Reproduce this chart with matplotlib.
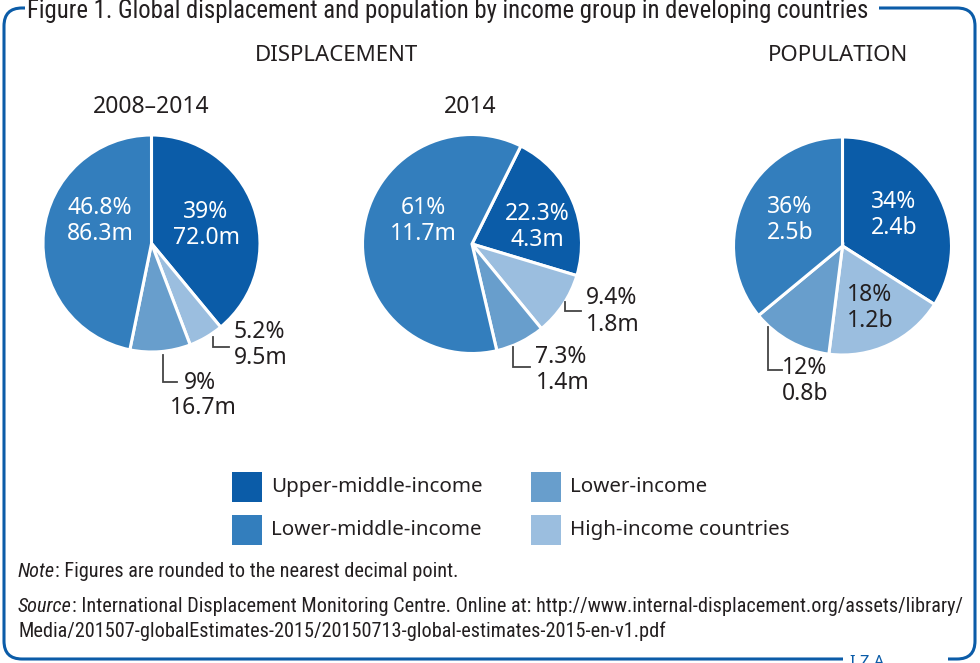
import numpy as np
import matplotlib
matplotlib.use("Agg")
import matplotlib.pyplot as plt
from matplotlib.patches import FancyBboxPatch, Rectangle

W, H = 980, 663

# data
categories = ['Upper-middle-income', 'Lower-middle-income', 'Lower-income', 'High-income countries']
cat_colors = ['#0b5ca8', '#337ebd', '#689ecc', '#9bbedf']
# wedges go clockwise in this order
order = ['Upper-middle-income', 'High-income countries', 'Lower-income', 'Lower-middle-income']

disp_0814_pct = [39, 5.2, 9, 46.8]
disp_0814_lbl = [('39%', '72.0m'), ('5.2%', '9.5m'), ('9%', '16.7m'), ('46.8%', '86.3m')]
disp_2014_pct = [22.3, 9.4, 7.3, 61]
disp_2014_lbl = [('22.3%', '4.3m'), ('9.4%', '1.8m'), ('7.3%', '1.4m'), ('61%', '11.7m')]
pop_pct = [34, 18, 12, 36]
pop_lbl = [('34%', '2.4b'), ('18%', '1.2b'), ('12%', '0.8b'), ('36%', '2.5b')]

BLUE = '#0b5ca8'
DARK = '#231f20'
LFONT = ['Noto Sans', 'DejaVu Sans']
NFONT = ['Roboto Condensed', 'DejaVu Sans']

fig = plt.figure(figsize=(9.8, 6.63), dpi=100)
ax = fig.add_axes([0, 0, 1, 1])


def Y(y):
    return H - y


col = dict(zip(categories, cat_colors))

# pies: center, radius, startangle, data, labels
pies = [
    ((151.5, 243.5), 108.5, 90, disp_0814_pct, disp_0814_lbl),
    ((472, 244), 109.5, 63.5, disp_2014_pct, disp_2014_lbl),
    ((842.5, 246), 109, 90, pop_pct, pop_lbl),
]
for (cx, cy), r, sa, vals, lbls in pies:
    ax.pie(vals, colors=[col[c] for c in order], center=(cx, Y(cy)), radius=r,
           startangle=sa, counterclock=False, frame=True,
           wedgeprops=dict(edgecolor='white', linewidth=2.2))
ax.set_xlim(0, W)
ax.set_ylim(0, H)
ax.set_axis_off()

# inside labels (white or dark), offsets from pie centres in px: (pie, idx, dx, dy, colour)
inside = [
    (0, 0, 54.5, -32, 'white'), (0, 3, -51.5, -36, 'white'),
    (1, 3, -48.5, -36, 'white'), (1, 0, 65, -30, 'white'),
    (2, 0, 51.5, -44, 'white'), (2, 3, -52.5, -39, 'white'),
    (2, 1, 27.5, 49, DARK),
]
for p, i, dx, dy, c in inside:
    (cx, cy), r, sa, vals, lbls = pies[p]
    ax.text(cx + dx, Y(cy + dy), lbls[i][0], ha='center', va='center', color=c,
            fontsize=16.5, family=LFONT)
    ax.text(cx + dx, Y(cy + dy + 26), lbls[i][1], ha='center', va='center', color=c,
            fontsize=16.5, family=LFONT)

# outside labels with elbow leader lines
# (pie, idx, line x, line y0, line y1, line x end, text1 x, text1 y, text2 x, text2 y)
outside = [
    (0, 1, 212.7, 336.7, 346.7, 229, 234, 332, 234, 358),
    (0, 2, 163.3, 355, 381.7, 177, 184, 383, 170, 408),
    (1, 1, 565, 301.7, 310.7, 581, 586, 298, 586, 325),
    (1, 2, 513.3, 346.7, 367.3, 530, 535, 357, 536, 383),
    (2, 2, 767.7, 326.7, 370, 781.7, 782, 368, 782, 394),
]
for p, i, lx, ly0, ly1, lx1, t1x, t1y, t2x, t2y in outside:
    lbls = pies[p][4]
    ax.plot([lx, lx, lx1], [Y(ly0), Y(ly1), Y(ly1)], color='#444444', lw=1.3,
            solid_joinstyle='miter')
    ax.text(t1x, Y(t1y), lbls[i][0], ha='left', va='center', color=DARK,
            fontsize=16.5, family=LFONT)
    ax.text(t2x, Y(t2y), lbls[i][1], ha='left', va='center', color=DARK,
            fontsize=16.5, family=LFONT)

# headings
ax.text(336.5, Y(55.5), 'DISPLACEMENT', ha='center', va='center', color=DARK,
        fontsize=16, family=LFONT)
ax.text(838, Y(55.5), 'POPULATION', ha='center', va='center', color=DARK,
        fontsize=16, family=LFONT)
ax.text(151, Y(107), '2008–2014', ha='center', va='center', color=DARK,
        fontsize=16.5, family=LFONT)
ax.text(470, Y(107), '2014', ha='center', va='center', color=DARK,
        fontsize=16.5, family=LFONT)

# legend
leg_pos = [(232, 472), (232, 515), (531, 472), (531, 515)]
for (lx, ly), c in zip(leg_pos, categories):
    ax.add_patch(Rectangle((lx, Y(ly + 30)), 30, 30, facecolor=col[c], edgecolor='none'))
    ax.text(lx + 39, Y(ly + 15), c, ha='left', va='center', color=DARK,
            fontsize=14.8, family=LFONT)

# frame
frame = FancyBboxPatch((4, Y(659)), 971, 651, boxstyle='round,pad=0,rounding_size=18',
                       facecolor='none', edgecolor=BLUE, lw=2.2, zorder=5)
ax.add_patch(frame)
ax.add_patch(Rectangle((25, Y(14)), 854, 12, facecolor='white', edgecolor='none', zorder=6))
ax.add_patch(Rectangle((843, Y(663)), 105, 10, facecolor='white', edgecolor='none', zorder=6))
ax.text(27, Y(18), 'Figure 1. Global displacement and population by income group in developing countries',
        ha='left', va='baseline', color=DARK, fontsize=17.8, family=NFONT, zorder=7)
ax.text(867, Y(667), 'I Z A', ha='center', va='baseline', color=BLUE, fontsize=12,
        fontweight='bold', family=LFONT, zorder=7)

# notes
fig.canvas.draw()
rend = fig.canvas.get_renderer()
notes = [('Note', ': Figures are rounded to the nearest decimal point.', 577),
         ('Source', ': International Displacement Monitoring Centre. Online at: '
          'http://www.internal-displacement.org/assets/library/', 612)]
for it, rest, by in notes:
    t = ax.text(18, Y(by), it, ha='left', va='baseline', color=DARK, fontsize=14.6,
                style='italic', family=NFONT)
    x1 = t.get_window_extent(rend).x1
    ax.text(x1, Y(by), rest, ha='left', va='baseline', color=DARK, fontsize=14.6, family=NFONT)
ax.text(18, Y(637), 'Media/201507-globalEstimates-2015/20150713-global-estimates-2015-en-v1.pdf',
        ha='left', va='baseline', color=DARK, fontsize=14.6, family=NFONT)

fig.savefig('out.png', dpi=100)
